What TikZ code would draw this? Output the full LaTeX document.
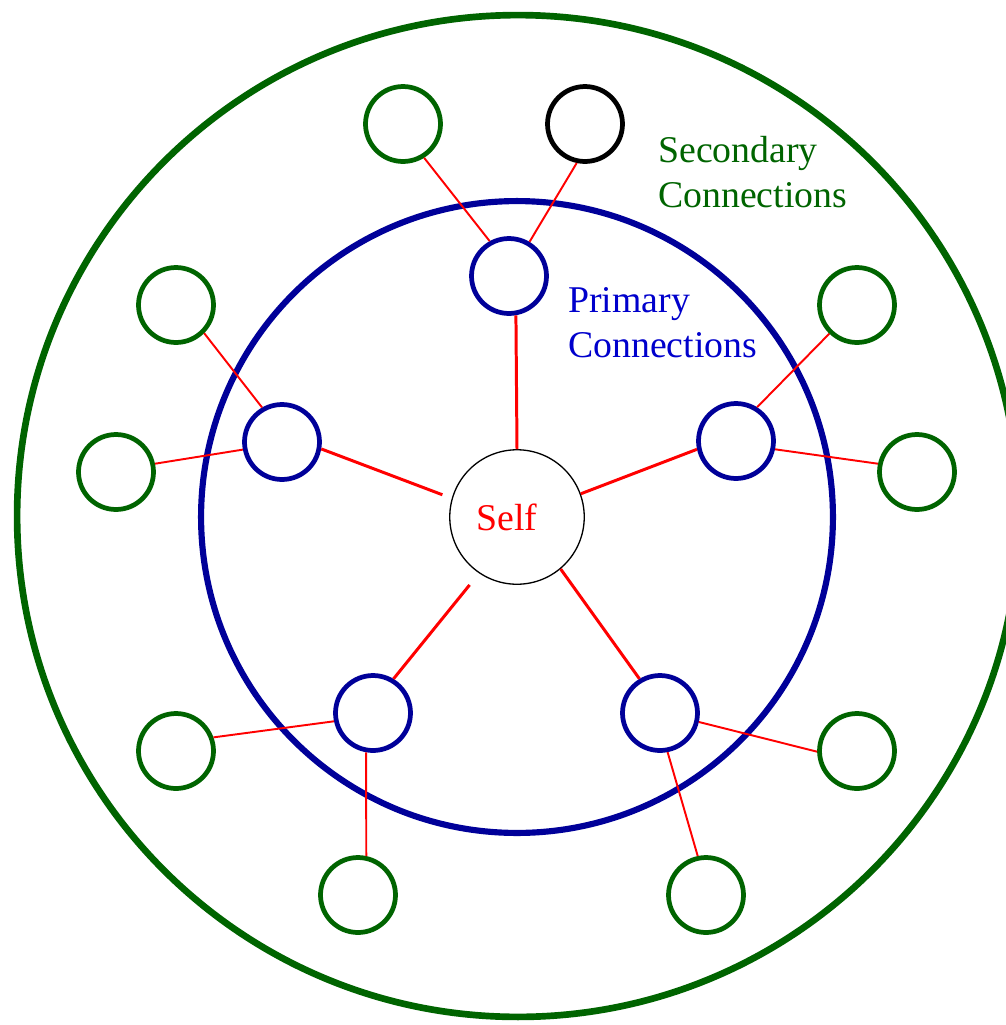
\documentclass[tikz,border=0pt]{standalone}
\usepackage{fontspec}
\setmainfont{Liberation Serif}
\definecolor{netgreen}{RGB}{0,100,0}
\definecolor{netblue}{RGB}{0,0,153}
\definecolor{lblblue}{RGB}{0,0,204}
\begin{document}
\begin{tikzpicture}[x=.02cm,y=-.02cm,
  prim/.style={circle,draw=netblue,line width=2.7pt,inner sep=0pt,minimum size=1.5cm},
  sec/.style={circle,draw=netgreen,line width=2.7pt,inner sep=0pt,minimum size=1.5cm},
  tie/.style={red,line width=1.7pt},
  tie2/.style={red,line width=1.1pt},
  lbl/.style={font=\fontsize{21.5}{25.5}\selectfont,align=left,anchor=base west,inner sep=0pt}]
\useasboundingbox (0,0) rectangle (1006,1025);
\clip (0,0) rectangle (1006,1025);
\draw [netgreen,line width=3.8pt] (518,516) circle (10.02cm);
\draw [netblue,line width=3.5pt] (517,517) circle (6.32cm);
\node (self) at (517,517) [circle,draw,line width=.75pt,inner sep=0pt,minimum size=2.69cm,
  text=red,font=\fontsize{21.5}{25.5}\selectfont]{Self\kern.4cm};
\node (pt) at (509,276) [prim]{};
\node (pl) at (282,442) [prim]{};
\node (pr) at (736,441) [prim]{};
\node (pbl) at (373,713) [prim]{};
\node (pbr) at (660,713) [prim]{};
\node (st1) at (403,124) [sec]{};
\node (st2) at (585,124) [sec,draw=black]{};
\node (sl1) at (176,305) [sec]{};
\node (sl2) at (116,472) [sec]{};
\node (sr1) at (857,305) [sec]{};
\node (sr2) at (917,472) [sec]{};
\node (sbl1) at (176,751) [sec]{};
\node (sbl2) at (358,895) [sec]{};
\node (sbr1) at (857,751) [sec]{};
\node (sbr2) at (706,895) [sec]{};
\draw [tie] (self.90) -- (pt.280);
\draw [tie,shorten <=.2cm] (self.164) -- (pl.350);
\draw [tie] (self.20) -- (pr.192);
\draw [tie,shorten <=.3cm] (self.236) -- (pbl.59);
\draw [tie] (self.310) -- (pbr.121);
\draw [tie2] (pt.119) -- (st1.302);
\draw [tie2] (pt.59) -- (st2.258);
\draw [tie2] (pl.120) -- (sl1.315);
\draw [tie2] (pl.191) -- (sl2.12);
\draw [tie2] (pr.58) -- (sr1.226);
\draw [tie2] (pr.348) -- (sr2.168);
\draw [tie2] (pbl.192) -- (sbl1.20);
\draw [tie2] (pbl.260) -- (sbl2.78);
\draw [tie2] (pbr.347) -- (sbr1.181);
\draw [tie2] (pbr.281) -- (sbr2.102);
\node (sec) at (658,207) [lbl,text=netgreen]{Secondary\\Connections};
\node (prim) at (568,357) [lbl,text=lblblue]{Primary\\Connections};
\end{tikzpicture}
\end{document}
